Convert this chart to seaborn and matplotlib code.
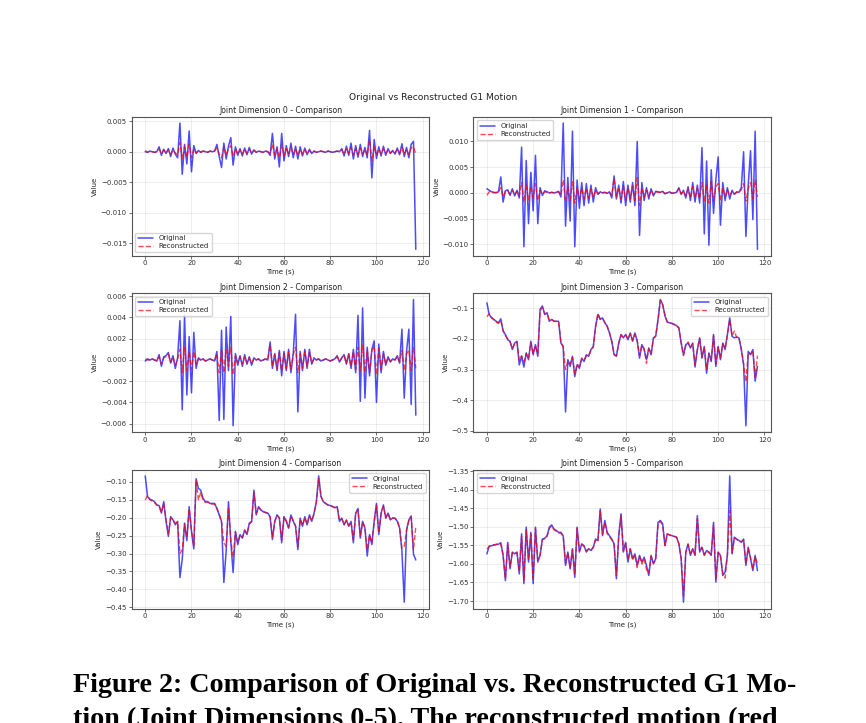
import matplotlib
matplotlib.use('Agg')
import matplotlib.pyplot as plt
from matplotlib.ticker import MultipleLocator
import seaborn as sns
import numpy as np

# time axis (s), one sample per second
time_s = np.arange(118)

# Joint 0 (units of 1e-4)
dim0_orig = [0, -1, 1, 0, -1, 0, 8, -6, 4, -3,
             5, -8, 6, -4, -10, 47, -37, 12, -20, 34,
             -33, 10, -3, 2, -1, 1, 0, -1, 1, 0,
             1, 12, -8, -26, 14, -12, 9, 23, -22, 8,
             -6, 5, -7, 6, -5, 7, -4, 3, -1, 1,
             0, -1, 1, 0, -6, 30, -12, 8, -25, 30,
             -15, 10, -8, 14, -10, 9, -12, 8, -7, 6,
             -5, 4, -3, 1, -1, 0, 1, 0, -1, 1,
             0, -1, 0, 1, 0, 5, -7, 9, -6, 14,
             -12, 10, -9, 12, -8, 7, -10, 35, -43, 20,
             -11, 8, -7, 9, -6, 5, -3, 2, -4, 6,
             -5, 13, -8, 7, -10, 12, 17, -160]
dim0_recon = [2, -1, 1, 0, -1, 0, 4, -3, 3, -2,
              3, -4, 3, -2, -5, 15, -12, 8, -9, 12,
              -10, 5, -2, 1, -1, 1, 0, -1, 1, 0,
              1, 6, -4, -10, 8, -6, 5, 10, -8, 5,
              -4, 3, -4, 4, -3, 4, -2, 2, -1, 1,
              0, -1, 1, 0, -3, 12, -6, 5, -10, 12,
              -7, 5, -4, 7, -5, 5, -6, 4, -4, 3,
              -3, 2, -2, 1, -1, 0, 1, 0, -1, 1,
              0, -1, 0, 1, 0, 3, -4, 5, -3, 7,
              -6, 5, -5, 6, -4, 4, -5, 20, -15, 9,
              -6, 4, -4, 5, -3, 3, -2, 1, -2, 3,
              -3, 7, -4, 4, -5, 6, 8, -4]

# Joint 1 (units of 1e-4)
dim1_orig = [8, 5, 2, 1, 0, 2, 31, -18, 4, 6,
             -5, 8, -6, 5, -10, 89, -105, 63, -60, 40,
             -35, 73, -60, 10, -5, 4, 2, 0, 1, 0,
             1, 3, -8, 136, -65, 30, -55, 120, -105, 25,
             -30, 20, -25, 18, -20, 15, -18, 10, -3, 2,
             0, 1, -1, 2, -10, 33, -12, 15, -20, 22,
             -25, 15, -18, 20, -25, 100, -83, 20, -15, 10,
             -12, 8, -6, 3, 2, 1, 3, -2, 0, 2,
             -1, 0, 1, 10, -3, 5, -10, 12, -15, 20,
             -18, 15, -20, 88, -80, 62, -102, 45, -40, 25,
             70, -63, 20, -15, 10, -12, 5, -3, 2, 1,
             10, 80, -85, 15, 82, -52, 120, -110]
dim1_recon = [-5, 2, 1, 0, 1, 1, 10, -8, 3, 4,
              -3, 5, -4, 3, -6, 20, -18, 15, -14, 12,
              -10, 18, -15, 5, -3, 2, 1, 0, 1, 0,
              1, 2, -5, 25, -18, 12, -15, 22, -20, 10,
              -12, 10, -12, 9, -10, 8, -9, 5, -2, 1,
              0, 1, -1, 1, -5, 28, -8, 10, -12, 14,
              -15, 10, -12, 14, -15, 30, -25, 10, -8, 6,
              -6, 5, -3, 2, 1, 1, 2, -1, 0, 1,
              -1, 0, 1, 8, -2, 3, -6, 8, -10, 12,
              -10, 9, -12, 20, -18, 15, -20, 22, -15, 12,
              18, -16, 10, -8, 6, -6, 3, -2, 1, 1,
              6, 18, -16, 8, 20, -12, 25, -8]

# Joint 2 (units of 1e-4)
dim2_orig = [-1, 1, 0, 1, 0, -1, 5, -6, 3, 4,
             7, -3, 4, -8, 2, 37, -47, 42, -33, 22,
             -31, 26, -8, 2, 0, 1, -1, 0, 1, 0,
             -1, 8, -57, 28, -56, 31, -10, 41, -62, 6,
             -5, 4, -6, 5, -4, 3, -5, 2, 0, 1,
             -1, 0, 1, 0, 17, -8, 6, -10, 9, -15,
             8, -10, 10, -12, 6, 43, -49, 8, -10, 10,
             -8, 10, -4, 2, 0, 1, -1, 0, 1, 0,
             -1, 0, 1, 4, -2, 2, 5, -4, 6, -8,
             10, -12, 42, -39, 49, -36, 12, -15, 10, 18,
             -40, 15, -12, 8, -5, 3, -2, 1, 0, 4,
             -3, 29, -36, 8, 29, -42, 57, -52]
dim2_recon = [1, 0, 0, 1, 0, -1, 3, -4, 2, 3,
              5, -2, 3, -5, 1, 10, -12, 12, -10, 8,
              -9, 8, -4, 1, 0, 1, -1, 0, 1, 0,
              -1, 6, -12, 10, -12, 10, -6, 12, -14, 4,
              -3, 3, -4, 3, -3, 2, -3, 1, 0, 1,
              -1, 0, 1, 0, 14, -6, 5, -8, 7, -10,
              6, -8, 8, -9, 5, 12, -12, 6, -8, 8,
              -6, 7, -3, 1, 0, 1, -1, 0, 1, 0,
              -1, 0, 1, 3, -1, 2, 4, -3, 5, -6,
              8, -9, 12, -10, 14, -12, 10, -12, 9, 13,
              -14, 11, -9, 6, -4, 2, -1, 1, 0, 3,
              -2, 9, -10, 6, 9, -10, 12, -8]

dim3_orig = [-0.083, -0.121, -0.132, -0.137, -0.143, -0.148, -0.135, -0.175, -0.186, -0.203,
             -0.208, -0.235, -0.214, -0.208, -0.285, -0.257, -0.292, -0.246, -0.268, -0.208,
             -0.252, -0.219, -0.257, -0.104, -0.093, -0.121, -0.115, -0.143, -0.137, -0.143,
             -0.143, -0.143, -0.214, -0.225, -0.438, -0.268, -0.290, -0.257, -0.323, -0.285,
             -0.296, -0.263, -0.274, -0.252, -0.257, -0.235, -0.225, -0.159, -0.121, -0.137,
             -0.132, -0.148, -0.159, -0.181, -0.208, -0.252, -0.257, -0.214, -0.186, -0.197,
             -0.186, -0.203, -0.181, -0.208, -0.181, -0.208, -0.263, -0.219, -0.235, -0.268,
             -0.230, -0.252, -0.197, -0.192, -0.137, -0.072, -0.088, -0.126, -0.146, -0.148,
             -0.150, -0.154, -0.157, -0.164, -0.214, -0.252, -0.219, -0.214, -0.230, -0.214,
             -0.292, -0.235, -0.197, -0.263, -0.225, -0.312, -0.246, -0.274, -0.186, -0.290,
             -0.225, -0.268, -0.214, -0.235, -0.186, -0.132, -0.192, -0.197, -0.194, -0.197,
             -0.235, -0.285, -0.483, -0.241, -0.252, -0.235, -0.338, -0.290]
dim3_recon = [-0.128, -0.118, -0.130, -0.138, -0.146, -0.150, -0.140, -0.172, -0.190, -0.200,
              -0.210, -0.230, -0.216, -0.210, -0.270, -0.255, -0.275, -0.248, -0.262, -0.212,
              -0.248, -0.222, -0.250, -0.110, -0.098, -0.118, -0.118, -0.140, -0.138, -0.142,
              -0.144, -0.145, -0.210, -0.228, -0.300, -0.272, -0.282, -0.260, -0.315, -0.282,
              -0.290, -0.265, -0.270, -0.255, -0.255, -0.238, -0.228, -0.162, -0.118, -0.135,
              -0.134, -0.147, -0.160, -0.180, -0.210, -0.250, -0.255, -0.216, -0.188, -0.195,
              -0.188, -0.200, -0.184, -0.205, -0.185, -0.205, -0.255, -0.222, -0.232, -0.280,
              -0.232, -0.248, -0.200, -0.190, -0.140, -0.075, -0.090, -0.122, -0.145, -0.148,
              -0.150, -0.152, -0.158, -0.165, -0.212, -0.255, -0.222, -0.210, -0.228, -0.216,
              -0.285, -0.238, -0.200, -0.260, -0.228, -0.300, -0.248, -0.270, -0.190, -0.282,
              -0.228, -0.262, -0.216, -0.232, -0.188, -0.138, -0.190, -0.175, -0.196, -0.198,
              -0.232, -0.280, -0.340, -0.245, -0.250, -0.238, -0.325, -0.255]

dim4_orig = [-0.083, -0.141, -0.148, -0.151, -0.155, -0.164, -0.166, -0.187, -0.155, -0.210,
             -0.252, -0.197, -0.206, -0.220, -0.210, -0.367, -0.316, -0.215, -0.264, -0.169,
             -0.238, -0.287, -0.091, -0.118, -0.123, -0.146, -0.155, -0.155, -0.160, -0.160,
             -0.160, -0.174, -0.192, -0.210, -0.381, -0.293, -0.155, -0.266, -0.353, -0.238,
             -0.275, -0.247, -0.257, -0.234, -0.247, -0.215, -0.210, -0.123, -0.192, -0.169,
             -0.178, -0.183, -0.185, -0.187, -0.197, -0.261, -0.210, -0.192, -0.201, -0.270,
             -0.197, -0.210, -0.229, -0.192, -0.210, -0.224, -0.289, -0.201, -0.224, -0.197,
             -0.220, -0.192, -0.210, -0.187, -0.155, -0.083, -0.141, -0.155, -0.160, -0.164,
             -0.166, -0.169, -0.172, -0.169, -0.210, -0.201, -0.220, -0.206, -0.224, -0.210,
             -0.270, -0.187, -0.174, -0.257, -0.210, -0.229, -0.307, -0.247, -0.275, -0.210,
             -0.160, -0.247, -0.187, -0.164, -0.201, -0.187, -0.206, -0.201, -0.201, -0.210,
             -0.229, -0.293, -0.436, -0.234, -0.206, -0.195, -0.302, -0.318]
dim4_recon = [-0.150, -0.138, -0.150, -0.153, -0.158, -0.165, -0.168, -0.185, -0.160, -0.205,
              -0.245, -0.200, -0.205, -0.215, -0.212, -0.300, -0.290, -0.218, -0.255, -0.175,
              -0.235, -0.280, -0.095, -0.150, -0.130, -0.150, -0.157, -0.156, -0.160, -0.162,
              -0.162, -0.175, -0.190, -0.212, -0.270, -0.280, -0.170, -0.262, -0.310, -0.240,
              -0.270, -0.248, -0.255, -0.236, -0.245, -0.218, -0.212, -0.130, -0.188, -0.172,
              -0.178, -0.183, -0.186, -0.188, -0.198, -0.255, -0.212, -0.194, -0.200, -0.262,
              -0.198, -0.208, -0.228, -0.195, -0.208, -0.222, -0.280, -0.204, -0.222, -0.200,
              -0.218, -0.195, -0.208, -0.190, -0.158, -0.090, -0.140, -0.155, -0.160, -0.165,
              -0.166, -0.168, -0.172, -0.170, -0.208, -0.203, -0.218, -0.208, -0.222, -0.212,
              -0.262, -0.190, -0.178, -0.250, -0.212, -0.228, -0.290, -0.248, -0.270, -0.212,
              -0.165, -0.242, -0.190, -0.168, -0.200, -0.188, -0.205, -0.200, -0.202, -0.208,
              -0.228, -0.285, -0.280, -0.236, -0.208, -0.198, -0.290, -0.225]

dim5_orig = [-1.573, -1.552, -1.551, -1.549, -1.548, -1.547, -1.543, -1.577, -1.645, -1.542,
             -1.613, -1.568, -1.573, -1.568, -1.627, -1.519, -1.653, -1.501, -1.595, -1.515,
             -1.653, -1.501, -1.595, -1.577, -1.533, -1.531, -1.524, -1.501, -1.495, -1.506,
             -1.510, -1.515, -1.515, -1.524, -1.604, -1.568, -1.613, -1.559, -1.636, -1.501,
             -1.568, -1.546, -1.551, -1.568, -1.559, -1.564, -1.555, -1.533, -1.537, -1.452,
             -1.524, -1.483, -1.515, -1.524, -1.533, -1.546, -1.640, -1.524, -1.465, -1.568,
             -1.542, -1.595, -1.559, -1.586, -1.573, -1.604, -1.577, -1.595, -1.582, -1.604,
             -1.631, -1.577, -1.600, -1.586, -1.488, -1.483, -1.492, -1.551, -1.519, -1.522,
             -1.524, -1.526, -1.528, -1.546, -1.586, -1.703, -1.568, -1.546, -1.577, -1.559,
             -1.577, -1.470, -1.568, -1.555, -1.577, -1.564, -1.568, -1.577, -1.488, -1.649,
             -1.568, -1.577, -1.631, -1.622, -1.577, -1.363, -1.573, -1.528, -1.533, -1.537,
             -1.542, -1.533, -1.604, -1.555, -1.586, -1.618, -1.577, -1.618]
dim5_recon = [-1.560, -1.553, -1.550, -1.549, -1.547, -1.546, -1.545, -1.575, -1.640, -1.548,
              -1.608, -1.570, -1.572, -1.570, -1.620, -1.525, -1.645, -1.508, -1.590, -1.520,
              -1.640, -1.505, -1.590, -1.575, -1.535, -1.532, -1.526, -1.505, -1.498, -1.508,
              -1.512, -1.516, -1.518, -1.526, -1.598, -1.570, -1.610, -1.562, -1.630, -1.505,
              -1.565, -1.548, -1.553, -1.565, -1.560, -1.562, -1.556, -1.535, -1.540, -1.458,
              -1.520, -1.488, -1.518, -1.526, -1.535, -1.548, -1.632, -1.528, -1.470, -1.565,
              -1.545, -1.590, -1.560, -1.590, -1.575, -1.610, -1.580, -1.600, -1.585, -1.615,
              -1.625, -1.580, -1.598, -1.588, -1.492, -1.486, -1.495, -1.550, -1.520, -1.522,
              -1.524, -1.526, -1.528, -1.545, -1.585, -1.685, -1.570, -1.548, -1.575, -1.560,
              -1.575, -1.478, -1.565, -1.556, -1.575, -1.566, -1.570, -1.575, -1.495, -1.640,
              -1.570, -1.580, -1.625, -1.638, -1.575, -1.457, -1.570, -1.530, -1.534, -1.538,
              -1.540, -1.535, -1.600, -1.558, -1.582, -1.615, -1.580, -1.600]

# the first three joints are listed in units of 1e-4
originals = [np.array(dim0_orig) * 1e-4, np.array(dim1_orig) * 1e-4, np.array(dim2_orig) * 1e-4,
             dim3_orig, dim4_orig, dim5_orig]
reconstructed = [np.array(dim0_recon) * 1e-4, np.array(dim1_recon) * 1e-4, np.array(dim2_recon) * 1e-4,
                 dim3_recon, dim4_recon, dim5_recon]
legend_locs = ['lower left', 'upper left', 'upper left', 'upper right', 'upper right', 'upper left']
y_steps = [0.005, 0.005, 0.002, 0.1, 0.05, 0.05]

caption_lines = ['Figure 2: Comparison of Original vs. Reconstructed G1 Mo-',
                 'tion (Joint Dimensions 0-5). The reconstructed motion (red']

sns.set_style('ticks')
plt.rcParams['font.family'] = ['DejaVu Sans']

W, H = 866, 723
fig, axes = plt.subplots(3, 2, figsize=(W / 100, H / 100), dpi=100)
fig.subplots_adjust(left=131.7 / W, right=771 / W, top=1 - 116.7 / H, bottom=1 - 608.5 / H,
                    wspace=0.148, hspace=0.27)

for i, ax in enumerate(axes.flat):
    sns.lineplot(x=time_s, y=originals[i], ax=ax, color='blue', alpha=0.7,
                 linewidth=1.1, label='Original')
    sns.lineplot(x=time_s, y=reconstructed[i], ax=ax, color='red', alpha=0.7,
                 linewidth=1.0, linestyle='--', label='Reconstructed')
    ax.yaxis.set_major_locator(MultipleLocator(y_steps[i]))
    ax.set_title(f'Joint Dimension {i} - Comparison', fontsize=5.6, pad=2.5, color='#222222')
    ax.set_xlabel('Time (s)', fontsize=5, labelpad=1.5, color='#222222')
    ax.set_ylabel('Value', fontsize=5, labelpad=2, color='#222222')
    ax.tick_params(labelsize=5, length=2, width=0.5, pad=1.5, colors='#333333')
    ax.grid(True, alpha=0.3, linewidth=0.5, color='#b0b0b0')
    ax.set_axisbelow(True)
    for sp in ax.spines.values():
        sp.set_color('#555555')
        sp.set_linewidth(0.8)
    ax.legend(loc=legend_locs[i], fontsize=5, frameon=True, framealpha=0.8,
              edgecolor='#cccccc', handlelength=2.2, borderpad=0.4, labelspacing=0.3)

fig.suptitle('Original vs Reconstructed G1 Motion', x=0.5, y=1 - 98 / H, va='center',
             fontsize=6.6, color='#222222')

# caption below the figure, sized to the width of the printed line
cap_kw = dict(fontfamily='Liberation Serif', fontweight='bold', va='baseline', color='black')
cap1 = fig.text(73 / W, 1 - 692 / H, caption_lines[0], fontsize=20, **cap_kw)
cap2 = fig.text(73 / W, 1 - 726 / H, caption_lines[1], fontsize=20, **cap_kw)
fig.canvas.draw()
scale = 724 / cap1.get_window_extent().width
cap1.set_fontsize(20 * scale)
cap2.set_fontsize(20 * scale)

fig.savefig('out.png', dpi=100)
